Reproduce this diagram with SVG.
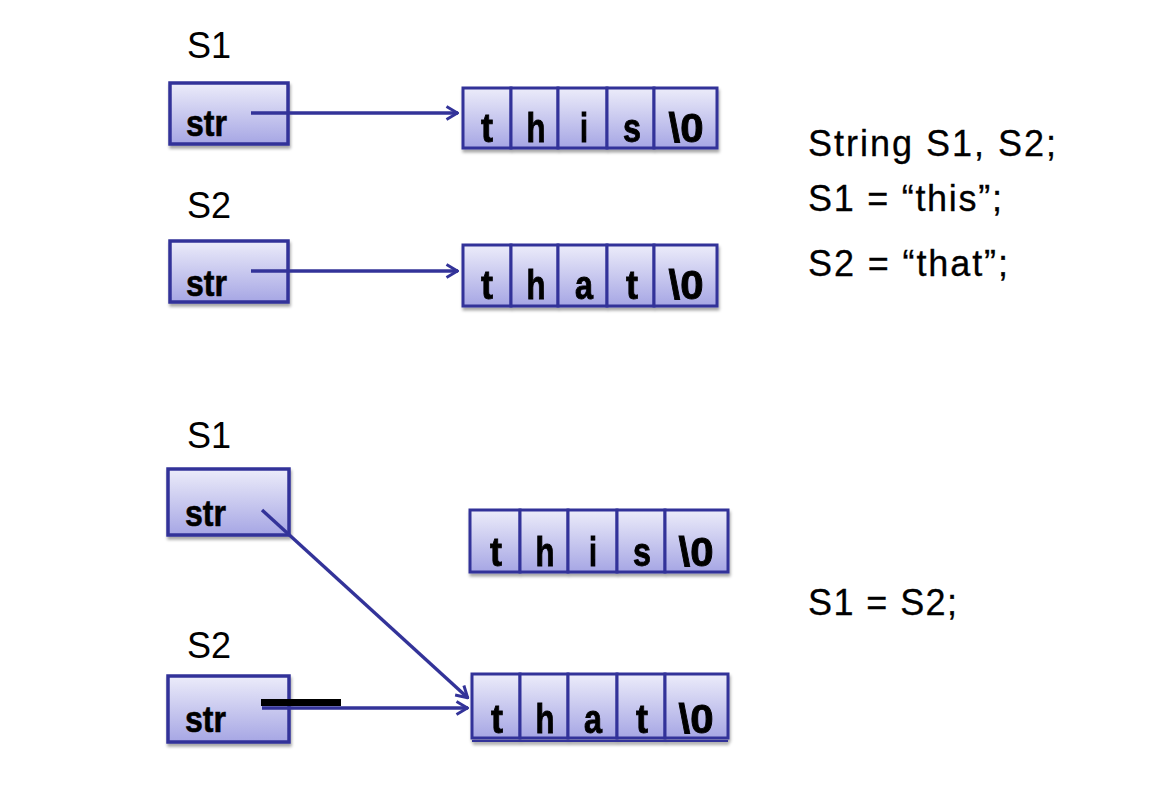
<svg xmlns="http://www.w3.org/2000/svg" width="1151" height="801" viewBox="0 0 1151 801">
<defs>
<linearGradient id="g" x1="0" y1="0" x2="0" y2="1">
<stop offset="0" stop-color="#ececfa"/>
<stop offset="1" stop-color="#a6a6e4"/>
</linearGradient>
<filter id="sh" x="-10%" y="-10%" width="130%" height="140%">
<feDropShadow dx="1" dy="3" stdDeviation="1.5" flood-color="#000" flood-opacity="0.35"/>
</filter>
<marker id="ah" viewBox="0 0 14 16" refX="13" refY="8" markerWidth="14" markerHeight="16" markerUnits="userSpaceOnUse" orient="auto">
<path d="M1.5,1.5 L12.5,8 L1.5,14.5" fill="none" stroke="#333399" stroke-width="3"/>
</marker>
<style>
.box{fill:url(#g);stroke:#333399;stroke-width:3.5;filter:url(#sh)}
.cell{fill:url(#g);stroke:#333399;stroke-width:3}
.lbl{font-family:"Liberation Sans",Arial,sans-serif;font-size:36px;fill:#000}
.code{font-family:"Liberation Sans",Arial,sans-serif;font-size:36px;fill:#000;stroke:#000;stroke-width:0.3}
.str{font-family:"Liberation Sans",Arial,sans-serif;font-weight:bold;font-size:36px;fill:#000;stroke:#000;stroke-width:0.6}
.ch{font-family:"Liberation Sans",Arial,sans-serif;font-weight:bold;font-size:40px;fill:#000;text-anchor:middle;stroke:#000;stroke-width:0.9}
.conn{stroke:#333399;stroke-width:3.4;fill:none;marker-end:url(#ah)}
</style>
</defs>
<rect width="1151" height="801" fill="#fff"/>

<g id="s1-top">
<text class="lbl" x="187" y="58">S1</text>
<rect class="box" x="170" y="83" width="118" height="61"/>
<text class="str" x="186" y="136" textLength="41" lengthAdjust="spacingAndGlyphs">str</text>
</g>
<g id="this-top" filter="url(#sh)">
<rect class="cell" x="463" y="88" width="48" height="60"/>
<rect class="cell" x="511" y="88" width="47" height="60"/>
<rect class="cell" x="558" y="88" width="49" height="60"/>
<rect class="cell" x="607" y="88" width="47" height="60"/>
<rect class="cell" x="654" y="88" width="63" height="60"/>
<text class="ch" x="487" y="142" textLength="12" lengthAdjust="spacingAndGlyphs">t</text>
<text class="ch" x="536" y="142" textLength="19" lengthAdjust="spacingAndGlyphs">h</text>
<text class="ch" x="584" y="142" textLength="8" lengthAdjust="spacingAndGlyphs">i</text>
<text class="ch" x="632" y="142" textLength="18" lengthAdjust="spacingAndGlyphs">s</text>
<text class="ch" x="686" y="142" textLength="35" lengthAdjust="spacingAndGlyphs">\0</text>
</g>

<g id="s2-top">
<text class="lbl" x="187" y="218">S2</text>
<rect class="box" x="170" y="241" width="118" height="61"/>
<text class="str" x="186" y="296" textLength="41" lengthAdjust="spacingAndGlyphs">str</text>
</g>
<g id="that-top" filter="url(#sh)">
<rect class="cell" x="463" y="245" width="48" height="61"/>
<rect class="cell" x="511" y="245" width="47" height="61"/>
<rect class="cell" x="558" y="245" width="49" height="61"/>
<rect class="cell" x="607" y="245" width="47" height="61"/>
<rect class="cell" x="654" y="245" width="63" height="61"/>
<text class="ch" x="487" y="299" textLength="12" lengthAdjust="spacingAndGlyphs">t</text>
<text class="ch" x="536" y="299" textLength="19" lengthAdjust="spacingAndGlyphs">h</text>
<text class="ch" x="584" y="299" textLength="18" lengthAdjust="spacingAndGlyphs">a</text>
<text class="ch" x="632" y="299" textLength="12" lengthAdjust="spacingAndGlyphs">t</text>
<text class="ch" x="686" y="299" textLength="35" lengthAdjust="spacingAndGlyphs">\0</text>
</g>

<g id="s1-bottom">
<text class="lbl" x="187" y="448">S1</text>
<rect class="box" x="168" y="469" width="121" height="66"/>
<text class="str" x="185" y="526" textLength="41" lengthAdjust="spacingAndGlyphs">str</text>
</g>
<g id="this-bottom" filter="url(#sh)">
<rect class="cell" x="470" y="510" width="50" height="62"/>
<rect class="cell" x="520" y="510" width="48" height="62"/>
<rect class="cell" x="568" y="510" width="49" height="62"/>
<rect class="cell" x="617" y="510" width="48" height="62"/>
<rect class="cell" x="665" y="510" width="63" height="62"/>
<text class="ch" x="496" y="566" textLength="12" lengthAdjust="spacingAndGlyphs">t</text>
<text class="ch" x="545" y="566" textLength="19" lengthAdjust="spacingAndGlyphs">h</text>
<text class="ch" x="593" y="566" textLength="8" lengthAdjust="spacingAndGlyphs">i</text>
<text class="ch" x="642" y="566" textLength="18" lengthAdjust="spacingAndGlyphs">s</text>
<text class="ch" x="696" y="566" textLength="35" lengthAdjust="spacingAndGlyphs">\0</text>
</g>

<g id="s2-bottom">
<text class="lbl" x="187" y="658">S2</text>
<rect class="box" x="168" y="676" width="121" height="66"/>
<text class="str" x="185" y="732" textLength="41" lengthAdjust="spacingAndGlyphs">str</text>
</g>
<g id="that-bottom" filter="url(#sh)">
<rect class="cell" x="472" y="674" width="48" height="64"/>
<rect class="cell" x="520" y="674" width="48" height="64"/>
<rect class="cell" x="568" y="674" width="49" height="64"/>
<rect class="cell" x="617" y="674" width="48" height="64"/>
<rect class="cell" x="665" y="674" width="63" height="64"/>
<text class="ch" x="497" y="733" textLength="12" lengthAdjust="spacingAndGlyphs">t</text>
<text class="ch" x="545" y="733" textLength="19" lengthAdjust="spacingAndGlyphs">h</text>
<text class="ch" x="593" y="733" textLength="18" lengthAdjust="spacingAndGlyphs">a</text>
<text class="ch" x="642" y="733" textLength="12" lengthAdjust="spacingAndGlyphs">t</text>
<text class="ch" x="696" y="733" textLength="35" lengthAdjust="spacingAndGlyphs">\0</text>
<line x1="472" y1="741" x2="728" y2="741" stroke="#333399" stroke-width="2"/>
</g>

<g id="connectors">
<line class="conn" x1="251" y1="113" x2="458" y2="113"/>
<line class="conn" x1="251" y1="271" x2="458" y2="271"/>
<line class="conn" x1="262" y1="510" x2="468" y2="698"/>
<line class="conn" x1="262" y1="708" x2="468" y2="708"/>
</g>
<rect id="cross-bar" x="261" y="699" width="80" height="7" fill="#000"/>

<g id="code">
<text class="code" x="808" y="156" textLength="248" lengthAdjust="spacing">String S1, S2;</text>
<text class="code" x="808" y="211" textLength="194" lengthAdjust="spacing">S1 = “this”;</text>
<text class="code" x="808" y="276" textLength="200" lengthAdjust="spacing">S2 = “that”;</text>
<text class="code" x="808" y="615" textLength="149" lengthAdjust="spacing">S1 = S2;</text>
</g>
</svg>
